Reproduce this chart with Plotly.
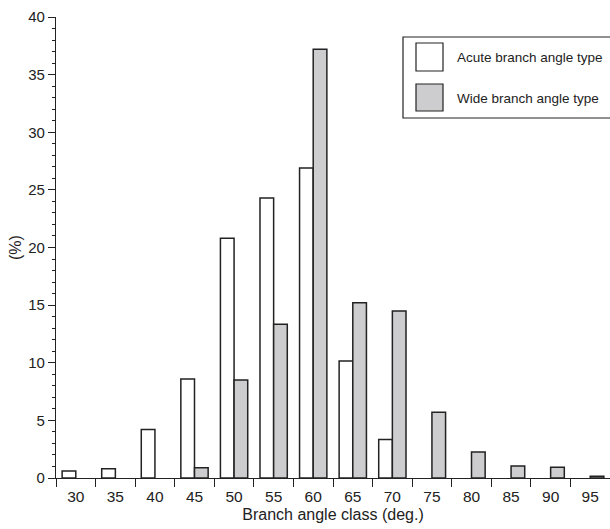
import plotly.graph_objects as go

categories = ["30", "35", "40", "45", "50", "55", "60", "65", "70", "75", "80", "85", "90", "95"]
acute = [0.6, 0.8, 4.2, 8.6, 20.8, 24.3, 26.9, 10.15, 3.35, None, None, None, None, None]
wide = [None, None, None, 0.9, 8.5, 13.35, 37.2, 15.2, 14.5, 5.7, 2.25, 1.05, 0.93, 0.15]
series_names = ["Acute branch angle type", "Wide branch angle type"]

W, H = 610, 529
L, R, T, B = 56, 0, 17, 51
pw, ph = W - L - R, H - T - B

def px(x):
    return (x - L) / pw

def py(y):
    return (H - B - y) / ph

font = "Liberation Sans, Arial, sans-serif"
edge = "#222222"
grey = "#cdcdcf"
txt = "#222222"

fig = go.Figure()
fig.add_trace(go.Bar(x=categories, y=acute, name=series_names[0],
                     marker=dict(color="white", line=dict(color=edge, width=1.5))))
fig.add_trace(go.Bar(x=categories, y=wide, name=series_names[1],
                     marker=dict(color=grey, line=dict(color=edge, width=1.5))))

fig.update_layout(
    width=W, height=H,
    margin=dict(l=L, r=R, t=T, b=B, pad=0),
    paper_bgcolor="white", plot_bgcolor="white",
    barmode="group", bargap=0.31, bargroupgap=0,
    showlegend=False,
    font=dict(family=font, size=15, color=txt),
)
fig.update_xaxes(
    type="category", tickson="boundaries", ticks="outside", ticklen=8,
    tickcolor=edge, showline=True, linecolor=edge, linewidth=1.2,
    showgrid=False, zeroline=False, ticklabelstandoff=4,
    title=dict(text="Branch angle class (deg.)", standoff=5, font=dict(size=16)),
    tickfont=dict(size=15.5),
)
fig.update_yaxes(
    range=[0, 40], dtick=5, ticks="outside", ticklen=7, tickcolor=edge,
    showline=True, linecolor=edge, linewidth=1.2, showgrid=False, zeroline=False,
    minor=dict(dtick=1, ticks="outside", ticklen=3, tickcolor=edge, showgrid=False),
    title=dict(text="(%)", standoff=2, font=dict(size=16)),
    tickfont=dict(size=15),
)

# legend drawn manually
shapes = [
    dict(type="rect", xref="paper", yref="paper", x0=px(403), x1=px(614), y0=py(118), y1=py(37),
         line=dict(color=edge, width=1.2), fillcolor="rgba(0,0,0,0)"),
    dict(type="rect", xref="paper", yref="paper", x0=px(416), x1=px(443), y0=py(71), y1=py(43),
         line=dict(color=edge, width=1.2), fillcolor="white"),
    dict(type="rect", xref="paper", yref="paper", x0=px(416), x1=px(443), y0=py(111), y1=py(84),
         line=dict(color=edge, width=1.2), fillcolor=grey),
]
annotations = [
    dict(xref="paper", yref="paper", x=px(455), y=py(57), text=series_names[0], showarrow=False,
         xanchor="left", yanchor="middle", font=dict(size=13.5, family=font, color=txt)),
    dict(xref="paper", yref="paper", x=px(455), y=py(99), text=series_names[1], showarrow=False,
         xanchor="left", yanchor="middle", font=dict(size=13.5, family=font, color=txt)),
]
fig.update_layout(shapes=shapes, annotations=annotations)

fig.write_html("out.html")
